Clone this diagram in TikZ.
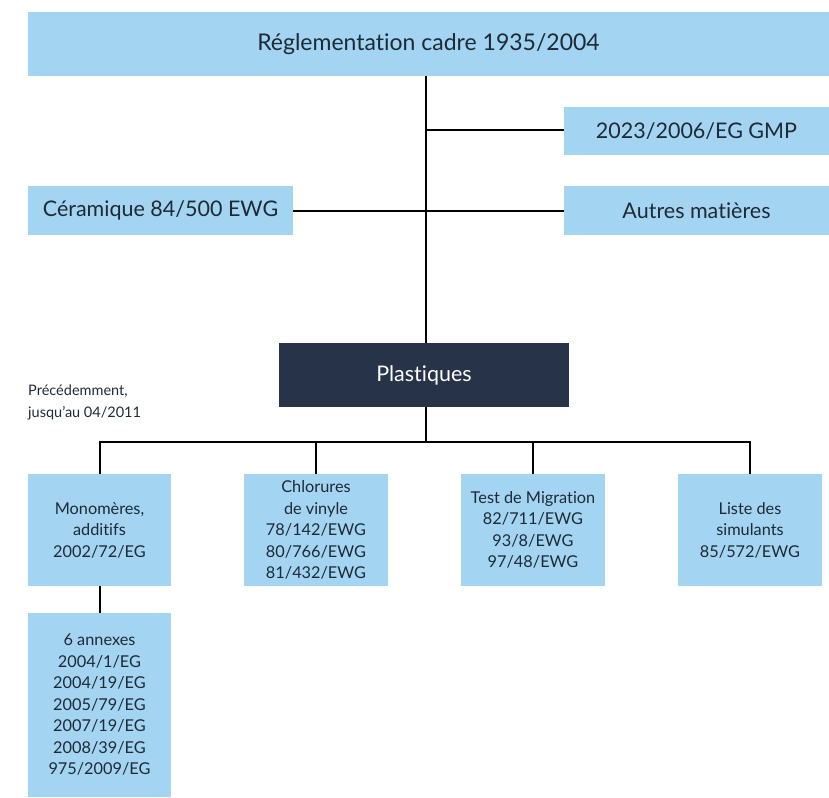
\documentclass[tikz,border=0pt]{standalone}
\usepackage{fontspec}
\setmainfont{Lato}[Ligatures={NoCommon,NoRequired,NoContextual}]
\definecolor{lightblue}{HTML}{A3D5F2}
\definecolor{navy}{HTML}{263349}
\definecolor{txt}{HTML}{1E2A35}
\begin{document}
\begin{tikzpicture}[x=1pt,y=-1pt,
  box/.style={fill=lightblue,text=txt,inner sep=0pt,align=center},
  dark/.style={fill=navy,text=white,inner sep=0pt,align=center},
  conn/.style={line width=2pt,black},
  big/.style={font=\fontsize{23}{28}\selectfont},
  mid/.style={font=\fontsize{21.5}{26}\selectfont},
  small/.style={font=\fontsize{16.3}{21.5}\selectfont},
  note/.style={font=\fontsize{14.5}{22}\selectfont}]
\useasboundingbox (0,0) rectangle (829,797);
% boxes
\node[box,big,minimum width=801,minimum height=64] (top) at (428.5,44) {Réglementation cadre 1935/2004};
\node[box,mid,minimum width=265,minimum height=48] (gmp) at (696.5,131) {2023/2006/EG GMP};
\node[box,mid,minimum width=265,minimum height=49] (cer) at (160.5,210.5) {Céramique 84/500 EWG};
\node[box,mid,minimum width=265,minimum height=49] (aut) at (696.5,210.5) {Autres matières};
\node[dark,mid,minimum width=290,minimum height=64] (pla) at (424,375) {Plastiques};
\node[note,align=left,anchor=north west,inner sep=0pt,text=txt] (prev) at (28,385) {Précédemment,\\jusqu'au 04/2011};
\node[box,small,minimum width=143,minimum height=112] (mono) at (99.5,530) {Monomères,\\additifs\\2002/72/EG};
\node[box,small,minimum width=144,minimum height=112] (chl) at (316,530) {Chlorures\\de vinyle\\78/142/EWG\\80/766/EWG\\81/432/EWG};
\node[box,small,minimum width=144,minimum height=112] (mig) at (533,530) {Test de Migration\\82/711/EWG\\93/8/EWG\\97/48/EWG};
\node[box,small,minimum width=144,minimum height=112] (lst) at (750,530) {Liste des\\simulants\\85/572/EWG};
\node[box,small,minimum width=143,minimum height=184] (ann) at (99.5,705) {6 annexes\\2004/1/EG\\2004/19/EG\\2005/79/EG\\2007/19/EG\\2008/39/EG\\975/2009/EG};
% connectors
\coordinate (j1) at (426,130);
\coordinate (bus) at (426,442);
\draw[conn] (top.south -| j1) -- (pla.north -| j1);
\draw[conn] (j1) -- (j1 -| gmp.west);
\draw[conn] (cer.east) -- (aut.west);
\draw[conn] (pla.south -| bus) -- (bus);
\draw[conn] (mono.north) |- (bus) -| (lst.north);
\draw[conn] (chl.north) -- (chl.north |- bus);
\draw[conn] (mig.north) -- (mig.north |- bus);
\draw[conn] (mono.south) -- (ann.north);
\end{tikzpicture}
\end{document}
